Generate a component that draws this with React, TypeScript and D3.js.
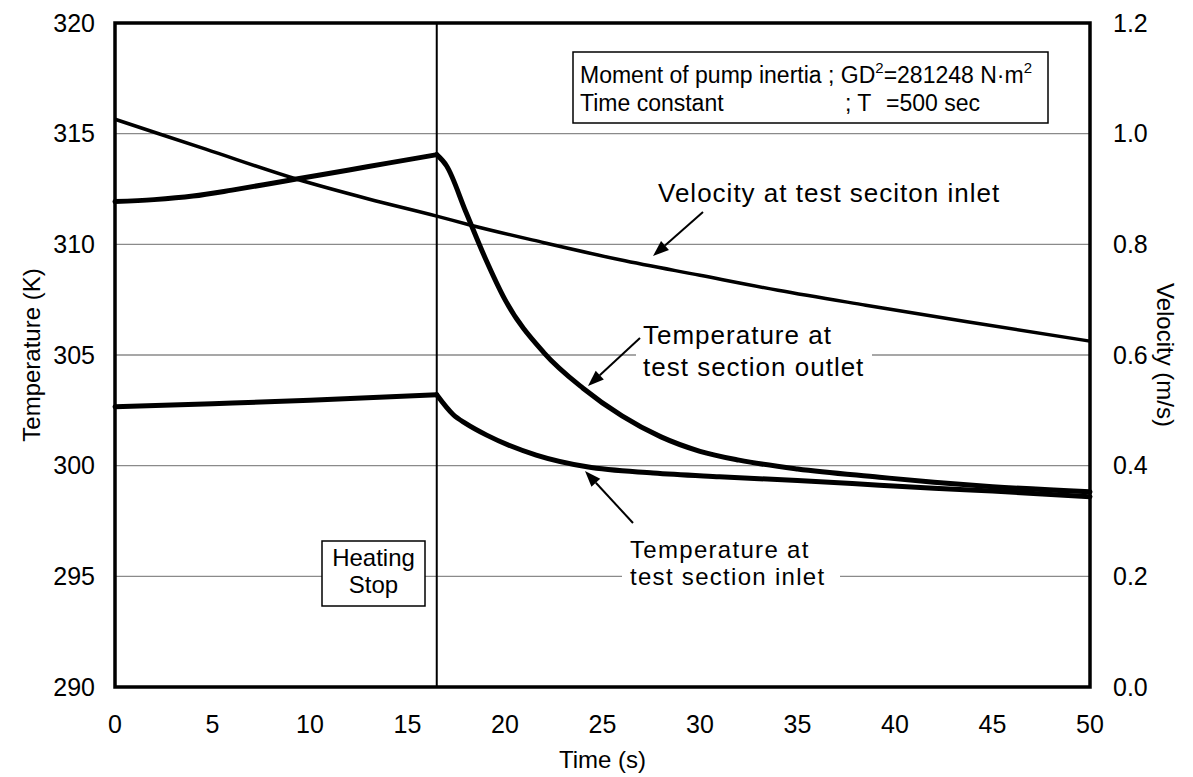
import React from 'react';
import * as d3 from 'd3';

// ---------- data ----------
const xTicks = [0, 5, 10, 15, 20, 25, 30, 35, 40, 45, 50];
const tempTicks = [290, 295, 300, 305, 310, 315, 320];
const velTicks = [0, 0.2, 0.4, 0.6, 0.8, 1.0, 1.2];
const velTickLabels = ['0.0', '0.2', '0.4', '0.6', '0.8', '1.0', '1.2'];
const gridTemps = [295, 300, 305, 310, 315];
const heatingStopTime = 16.5;

const outletTime = [0, 2, 4, 6, 8, 9.3, 12, 14, 16.5, 17, 18, 19, 20, 22, 24, 26, 28, 30, 32, 35, 39.2, 42, 45, 50];
const outletTemp = [311.93, 312.02, 312.18, 312.45, 312.75, 312.95, 313.36, 313.67, 314.05, 313.55, 311.45, 309.35, 307.5, 305.1, 303.5, 302.25, 301.3, 300.65, 300.25, 299.85, 299.48, 299.25, 299.05, 298.82];

const inletTime = [0, 5, 10, 16.5, 17.35, 18, 19.06, 21.6, 24.2, 27.6, 31, 35, 39.2, 42, 45, 50];
const inletTemp = [302.66, 302.8, 302.95, 303.2, 302.3, 301.9, 301.38, 300.48, 299.95, 299.67, 299.5, 299.33, 299.12, 298.98, 298.85, 298.6];

const velTime = [0, 4.65, 9.3, 13, 16.5, 18.2, 22, 25.9, 30, 34, 38.5, 43.7, 50];
const velValue = [1.026, 0.972, 0.918, 0.882, 0.851, 0.835, 0.803, 0.772, 0.744, 0.717, 0.69, 0.66, 0.625];

// ---------- layout ----------
const W = 1193;
const H = 777;
const M = { left: 115, right: 1090, top: 23, bottom: 687 };
const FONT = "'Liberation Sans', Arial, sans-serif";

const x = d3.scaleLinear().domain([0, 50]).range([M.left, M.right]);
const yT = d3.scaleLinear().domain([290, 320]).range([M.bottom, M.top]);
const yV = d3.scaleLinear().domain([0, 1.2]).range([M.bottom, M.top]);

const lineT = d3.line<[number, number]>().x(d => x(d[0])).y(d => yT(d[1])).curve(d3.curveMonotoneX);
const lineV = d3.line<[number, number]>().x(d => x(d[0])).y(d => yV(d[1])).curve(d3.curveMonotoneX);

const zip = (a: number[], b: number[]) => a.map((v, i) => [v, b[i]] as [number, number]);

// the heating stop makes a corner in the temperature curves: draw each side separately
function splitAtStop(pts: [number, number][]) {
  return [pts.filter(p => p[0] <= heatingStopTime), pts.filter(p => p[0] >= heatingStopTime)];
}

function Arrow({ x1, y1, x2, y2 }: { x1: number; y1: number; x2: number; y2: number }) {
  const ang = Math.atan2(y2 - y1, x2 - x1);
  const L = 16, Wd = 6;
  const bx = x2 - L * Math.cos(ang), by = y2 - L * Math.sin(ang);
  const px = -Math.sin(ang) * Wd, py = Math.cos(ang) * Wd;
  return (
    <g>
      <line x1={x1} y1={y1} x2={bx} y2={by} stroke="#000" strokeWidth={2} />
      <polygon points={`${x2},${y2} ${bx + px},${by + py} ${bx - px},${by - py}`} fill="#000" />
    </g>
  );
}

export default function App() {
  const xs = x(heatingStopTime);
  const outletParts = splitAtStop(zip(outletTime, outletTemp));
  const inletParts = splitAtStop(zip(inletTime, inletTemp));
  return (
    <svg width={W} height={H} style={{ position: 'absolute', left: 0, top: 0, background: '#fff' }} fontFamily={FONT}>
      <rect x={0} y={0} width={W} height={H} fill="#fff" />
      {/* grid */}
      {gridTemps.map(t => (
        <line key={t} x1={M.left} x2={M.right} y1={yT(t)} y2={yT(t)} stroke="#8a8a8a" strokeWidth={1.3} />
      ))}
      {/* label backgrounds over grid */}
      <rect x={636} y={322} width={236} height={62} fill="#fff" />
      <rect x={622} y={537} width={218} height={54} fill="#fff" />

      {/* heating stop vertical line */}
      <line x1={xs} x2={xs} y1={M.top} y2={M.bottom} stroke="#000" strokeWidth={2} />

      {/* curves */}
      <path d={lineV(zip(velTime, velValue)) || ''} fill="none" stroke="#000" strokeWidth={3.5} />
      {inletParts.map((p, i) => (
        <path key={'in' + i} d={lineT(p) || ''} fill="none" stroke="#000" strokeWidth={5} strokeLinejoin="round" strokeLinecap="round" />
      ))}
      {outletParts.map((p, i) => (
        <path key={'out' + i} d={lineT(p) || ''} fill="none" stroke="#000" strokeWidth={5} strokeLinejoin="round" strokeLinecap="round" />
      ))}

      {/* frame */}
      <rect x={M.left} y={M.top} width={M.right - M.left} height={M.bottom - M.top} fill="none" stroke="#000" strokeWidth={3.5} />

      {/* left ticks */}
      {tempTicks.map(t => (
        <text key={t} x={95} y={yT(t)} dy="0.35em" textAnchor="end" fontSize={25}>{t}</text>
      ))}
      {/* right ticks */}
      {velTicks.map((v, i) => (
        <text key={v} x={1113} y={yV(v)} dy="0.35em" textAnchor="start" fontSize={25}>{velTickLabels[i]}</text>
      ))}
      {/* bottom ticks */}
      {xTicks.map(t => (
        <text key={t} x={x(t)} y={724} dy="0.35em" textAnchor="middle" fontSize={25}>{t}</text>
      ))}

      {/* axis titles */}
      <text transform={`translate(32,${(M.top + M.bottom) / 2}) rotate(-90)`} textAnchor="middle" dy="0.35em" fontSize={24}>Temperature (K)</text>
      <text transform={`translate(1165,${(M.top + M.bottom) / 2}) rotate(90)`} textAnchor="middle" dy="0.35em" fontSize={24}>Velocity (m/s)</text>
      <text x={(M.left + M.right) / 2} y={760} textAnchor="middle" dy="0.35em" fontSize={24}>Time (s)</text>

      {/* info box */}
      <rect x={573} y={52} width={475} height={71} fill="#fff" stroke="#000" strokeWidth={1.5} />
      <text x={580} y={83} fontSize={23}>
        Moment of pump inertia ; GD<tspan fontSize={15} dy={-10}>2</tspan><tspan dy={10}>=281248 N·m</tspan><tspan fontSize={15} dy={-10}>2</tspan>
      </text>
      <text x={580} y={111} fontSize={23}>Time constant</text>
      <text x={845} y={111} fontSize={23}>;  T</text>
      <text x={886} y={111} fontSize={23}>=500 sec</text>

      {/* heating stop box */}
      <rect x={322} y={541} width={103} height={65} fill="#fff" stroke="#000" strokeWidth={1.5} />
      <text x={373.5} y={566} textAnchor="middle" fontSize={24}>Heating</text>
      <text x={373.5} y={593} textAnchor="middle" fontSize={24}>Stop</text>

      {/* annotations */}
      <text x={658} y={202} fontSize={26} letterSpacing={1}>Velocity at test seciton inlet</text>
      <Arrow x1={703} y1={212} x2={653} y2={256} />

      <text x={643} y={344} fontSize={26} letterSpacing={1}>Temperature at</text>
      <text x={643} y={376} fontSize={26} letterSpacing={1}>test section outlet</text>
      <Arrow x1={640} y1={338} x2={588} y2={386} />

      <text x={630} y={558} fontSize={24} letterSpacing={1.3}>Temperature at</text>
      <text x={630} y={585} fontSize={24} letterSpacing={1.3}>test section inlet</text>
      <Arrow x1={633} y1={523} x2={585} y2={471} />
    </svg>
  );
}
